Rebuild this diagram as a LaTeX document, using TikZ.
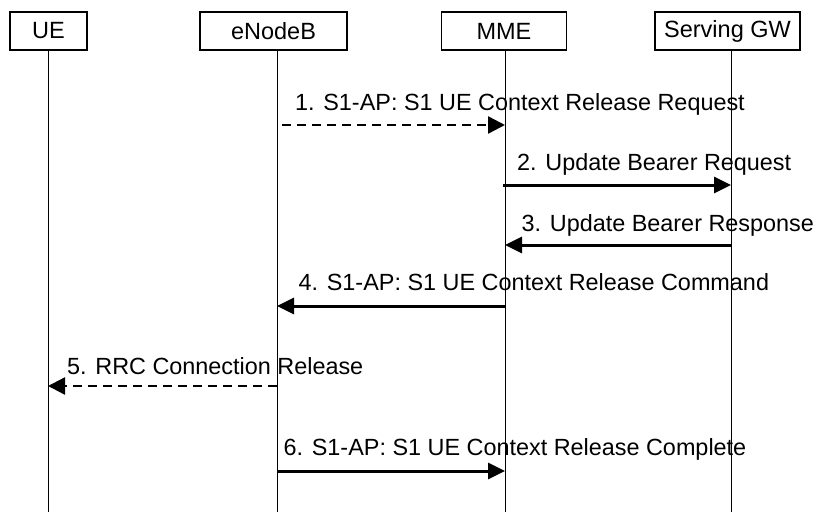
\documentclass[tikz,border=0pt]{standalone}
\usepackage{fontspec}
\setmainfont{Liberation Sans}
\usetikzlibrary{arrows.meta}
\tikzset{
  entity/.style={draw, line width=1.6pt, minimum height=38pt, inner sep=0pt, font=\fontsize{23.5}{26}\selectfont},
  life/.style={line width=1pt},
  msg/.style={line width=3pt, -{Triangle[length=17pt,width=16pt]}},
  dmsg/.style={line width=2.4pt, dash pattern=on 9pt off 6pt, -{Triangle[length=17pt,width=17pt]}},
  lbl/.style={anchor=base west, inner sep=0pt, font=\fontsize{23.4}{28}\selectfont}
}
\begin{document}
\begin{tikzpicture}[x=1pt,y=-1pt]
\useasboundingbox (0,0) rectangle (820,514);
% entities
\node[entity, minimum width=77pt]  (ue)  at (48.5,31) {UE};
\node[entity, minimum width=147pt] (enb) at (273.5,31) {eNodeB};
\node[entity, minimum width=125pt] (mme) at (504,31) {MME};
\node[entity, minimum width=145pt] (gw)  at (727.5,31) {Serving GW};
% lifeline ends
\coordinate (ueE)  at (48,512);
\coordinate (enbE) at (277,512);
\coordinate (mmeE) at (505,512);
\coordinate (gwE)  at (731,512);
\draw[life] (ue.south -| ueE) -- (ueE);
\draw[life] (enb.south -| enbE) -- (enbE);
\draw[life] (mme.south -| mmeE) -- (mmeE);
\draw[life] (gw.south -| gwE) -- (gwE);
% message points
\coordinate (e1) at (282,125); \coordinate (m1) at (505,125);
\coordinate (m2) at (503,185); \coordinate (g2) at (731,185);
\coordinate (g3) at (731,245); \coordinate (m3) at (505,245);
\coordinate (m4) at (505,306); \coordinate (e4) at (277,306);
\coordinate (e5) at (277,386); \coordinate (u5) at (48,386);
\coordinate (e6) at (277,471); \coordinate (m6) at (505,471);
% messages
\draw[dmsg] (e1) -- (m1);
\draw[msg] (m2) -- (g2);
\draw[msg] (g3) -- (m3);
\draw[msg] (m4) -- (e4);
\draw[dmsg] (e5) -- (u5);
\draw[msg] (e6) -- (m6);
% labels
\node[lbl] (l1) at (295,110.3) {1. S1-AP: S1 UE Context Release Request};
\node[lbl] (l2) at (517,170.6) {2. Update Bearer Request};
\node[lbl] (l3) at (521.5,231.6) {3. Update Bearer Response};
\node[lbl] (l4) at (298.5,290.6) {4. S1-AP: S1 UE Context Release Command};
\node[lbl] (l5) at (67,374.6) {5. RRC Connection Release};
\node[lbl] (l6) at (283.5,455.6) {6. S1-AP: S1 UE Context Release Complete};
\end{tikzpicture}
\end{document}
